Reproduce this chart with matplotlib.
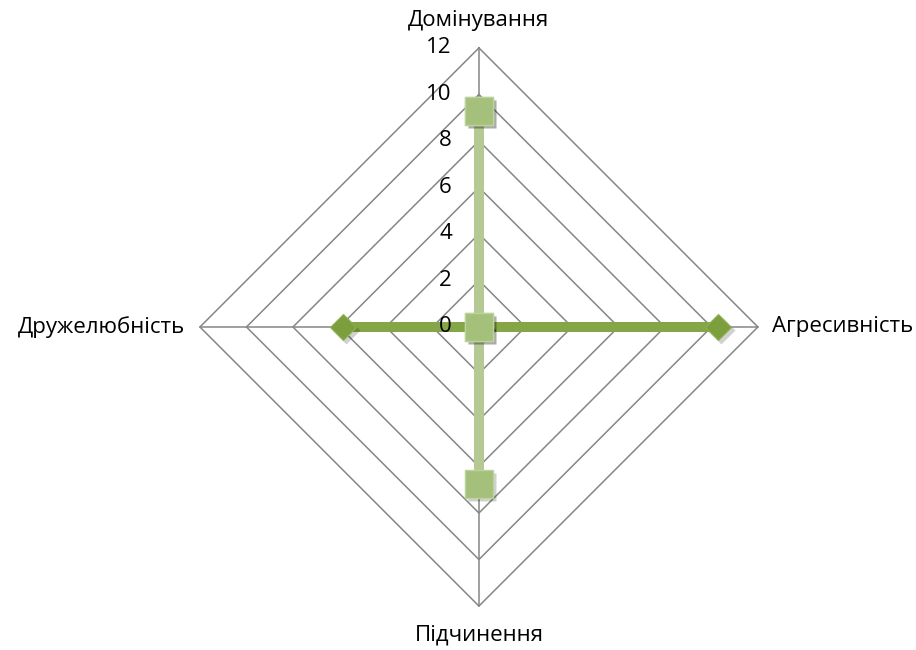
import numpy as np
import matplotlib
matplotlib.use("Agg")
import matplotlib.pyplot as plt
import matplotlib.transforms as mtransforms

# categories clockwise from the top
categories = ['Домінування', 'Агресивність', 'Підчинення', 'Дружелюбність']
angles_deg = [90, 0, 270, 180]

# series
series_horizontal = [0, 10.3, 0, 5.85]   # dark green, diamonds
series_vertical = [9.3, 0, 6.75, 0]      # light green, squares

tick_values = [0, 2, 4, 6, 8, 10, 12]
r_max = 12

plt.rcParams['font.family'] = ['Open Sans', 'DejaVu Sans']

ang = np.deg2rad(angles_deg)
cx, cy = np.cos(ang), np.sin(ang)


def to_xy(vals):
    v = np.asarray(vals, dtype=float)
    x = np.append(v * cx, v[0] * cx[0])
    y = np.append(v * cy, v[0] * cy[0])
    return x, y


fig = plt.figure(figsize=(9.16, 6.5), dpi=100)
ax = fig.add_axes([0, 0, 1, 1])
ax.set_xlim(-20.6, 18.8)
ax.set_ylim(-13.89, 14.06)
ax.axis('off')

grid_col = '#868686'
# diamond rings
for t in tick_values[1:]:
    gx, gy = to_xy([t] * 4)
    ax.plot(gx, gy, color=grid_col, lw=1.1, zorder=1)
# spokes
for i in range(4):
    ax.plot([0, r_max * cx[i]], [0, r_max * cy[i]], color=grid_col, lw=1.1, zorder=1)

# soft marker shadow, shifted down-right a little
shadow_tr = ax.transData + mtransforms.ScaledTranslation(2 / 72, -2.5 / 72, fig.dpi_scale_trans)

hx, hy = to_xy(series_horizontal)
ax.plot(hx, hy, color='#84a646', lw=7, solid_capstyle='butt', zorder=3)
ax.plot(hx, hy, ls='none', marker='D', ms=14, mfc='#000000', mec='none', alpha=0.18,
        transform=shadow_tr, zorder=3.5)
ax.plot(hx, hy, ls='none', marker='D', ms=13.5, mfc='#7c9e3c', mec='#8fb252', mew=0.8, zorder=4)

vx, vy = to_xy(series_vertical)
ax.plot(vx, vy, color='#b4ca92', lw=7, solid_capstyle='butt', zorder=5)
ax.plot(vx, vy, ls='none', marker='s', ms=20, mfc='#000000', mec='none', alpha=0.18,
        transform=shadow_tr, zorder=5.5)
ax.plot(vx, vy, ls='none', marker='s', ms=19.5, mfc='#a4c07a', mec='#bcd39a', mew=1, zorder=6)

# radial tick labels on the top spoke
for t in tick_values:
    ax.annotate(str(t), (0, t), xytext=(-19.5, 0), textcoords='offset points',
                ha='right', va='center', fontsize=16, color='black', zorder=7)

# category labels
offsets = [(0, 20), (10, 0), (0, -21), (-11, 0)]
aligns = ['center', 'left', 'center', 'right']
for i, name in enumerate(categories):
    ax.annotate(name, (r_max * cx[i], r_max * cy[i]), xytext=offsets[i],
                textcoords='offset points', ha=aligns[i], va='center',
                fontsize=16, color='black')

fig.savefig('out.png', dpi=100)
